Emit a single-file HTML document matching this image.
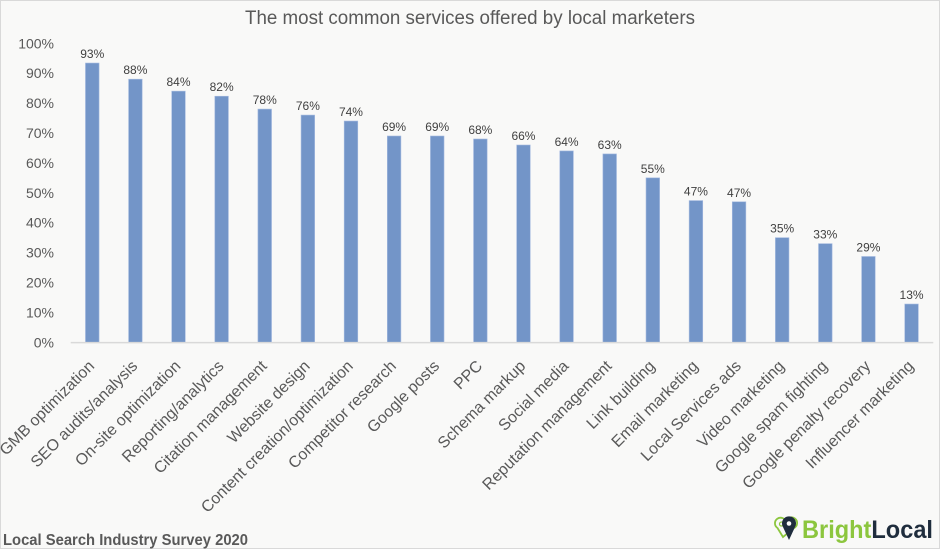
<!DOCTYPE html>
<html><head><meta charset="utf-8"><style>
html,body{margin:0;padding:0;background:#f9f9f8;}
svg{display:block;}
text{font-family:"Liberation Sans",Arial,sans-serif;}
</style></head><body>
<svg width="940" height="549" viewBox="0 0 940 549" xmlns="http://www.w3.org/2000/svg">
<rect x="0.5" y="0.5" width="939" height="548" fill="#f9f9f8" stroke="#d9d9d9" stroke-width="1"/>
<text x="245" y="24" font-size="19" fill="#595959" textLength="450" lengthAdjust="spacingAndGlyphs">The most common services offered by local marketers</text>

<g font-size="14" fill="#595959" text-anchor="end">
<text x="54" y="347.3">0%</text>
<text x="54" y="317.4">10%</text>
<text x="54" y="287.5">20%</text>
<text x="54" y="257.6">30%</text>
<text x="54" y="227.7">40%</text>
<text x="54" y="197.8">50%</text>
<text x="54" y="167.9">60%</text>
<text x="54" y="138.0">70%</text>
<text x="54" y="108.1">80%</text>
<text x="54" y="78.2">90%</text>
<text x="54" y="48.3">100%</text>
</g>

<g fill="#7395c8" stroke="#a6bbe0" stroke-width="0.6">
<rect x="85.46" y="63.03" width="13.6" height="279.27"/>
<rect x="128.58" y="79.18" width="13.6" height="263.12"/>
<rect x="171.70" y="91.14" width="13.6" height="251.16"/>
<rect x="214.82" y="96.22" width="13.6" height="246.08"/>
<rect x="257.94" y="109.08" width="13.6" height="233.22"/>
<rect x="301.06" y="115.06" width="13.6" height="227.24"/>
<rect x="344.18" y="121.04" width="13.6" height="221.26"/>
<rect x="387.30" y="136.0" width="13.6" height="206.3"/>
<rect x="430.42" y="136.0" width="13.6" height="206.3"/>
<rect x="473.54" y="139.0" width="13.6" height="203.3"/>
<rect x="516.66" y="145.0" width="13.6" height="197.3"/>
<rect x="559.78" y="150.94" width="13.6" height="191.36"/>
<rect x="602.90" y="153.93" width="13.6" height="188.37"/>
<rect x="646.02" y="177.85" width="13.6" height="164.45"/>
<rect x="689.14" y="200.57" width="13.6" height="141.73"/>
<rect x="732.26" y="201.77" width="13.6" height="140.53"/>
<rect x="775.38" y="237.65" width="13.6" height="104.65"/>
<rect x="818.50" y="243.63" width="13.6" height="98.67"/>
<rect x="861.62" y="256.49" width="13.6" height="85.81"/>
<rect x="904.74" y="304.03" width="13.6" height="38.27"/>
</g>
<line x1="70.7" y1="342.6" x2="933.3" y2="342.6" stroke="#d9d9d9" stroke-width="1.5"/>

<g font-size="12" fill="#404040" text-anchor="middle">
<text x="92.26" y="58.03">93%</text>
<text x="135.38" y="74.18">88%</text>
<text x="178.50" y="86.14">84%</text>
<text x="221.62" y="91.22">82%</text>
<text x="264.74" y="104.08">78%</text>
<text x="307.86" y="110.06">76%</text>
<text x="350.98" y="116.04">74%</text>
<text x="394.10" y="131.0">69%</text>
<text x="437.22" y="131.0">69%</text>
<text x="480.34" y="134.0">68%</text>
<text x="523.46" y="140.0">66%</text>
<text x="566.58" y="145.94">64%</text>
<text x="609.70" y="148.93">63%</text>
<text x="652.82" y="172.85">55%</text>
<text x="695.94" y="195.57">47%</text>
<text x="739.06" y="196.77">47%</text>
<text x="782.18" y="232.65">35%</text>
<text x="825.30" y="238.63">33%</text>
<text x="868.42" y="251.49">29%</text>
<text x="911.54" y="299.03">13%</text>
</g>

<g font-size="16" fill="#595959" text-anchor="end">
<text transform="translate(95.26,367) rotate(-45)">GMB optimization</text>
<text transform="translate(138.38,367) rotate(-45)">SEO audits/analysis</text>
<text transform="translate(181.50,367) rotate(-45)">On-site optimization</text>
<text transform="translate(224.62,367) rotate(-45)">Reporting/analytics</text>
<text transform="translate(267.74,367) rotate(-45)">Citation management</text>
<text transform="translate(310.86,367) rotate(-45)">Website design</text>
<text transform="translate(353.98,367) rotate(-45)">Content creation/optimization</text>
<text transform="translate(397.10,367) rotate(-45)">Competitor research</text>
<text transform="translate(440.22,367) rotate(-45)">Google posts</text>
<text transform="translate(483.34,367) rotate(-45)">PPC</text>
<text transform="translate(526.46,367) rotate(-45)">Schema markup</text>
<text transform="translate(569.58,367) rotate(-45)">Social media</text>
<text transform="translate(612.70,367) rotate(-45)">Reputation management</text>
<text transform="translate(655.82,367) rotate(-45)">Link building</text>
<text transform="translate(698.94,367) rotate(-45)">Email marketing</text>
<text transform="translate(742.06,367) rotate(-45)">Local Services ads</text>
<text transform="translate(785.18,367) rotate(-45)">Video marketing</text>
<text transform="translate(828.30,367) rotate(-45)">Google spam fighting</text>
<text transform="translate(871.42,367) rotate(-45)">Google penalty recovery</text>
<text transform="translate(914.54,367) rotate(-45)">Influencer marketing</text>
</g>

<text x="3" y="545" font-size="16" font-weight="bold" fill="#595959" textLength="245" lengthAdjust="spacingAndGlyphs">Local Search Industry Survey 2020</text>

<!-- BrightLocal logo -->
<g>
<path d="M783,537 L777.5,528 A5.6,5.6 0 1 1 786,522 A5.6,5.6 0 1 1 794,528 Z" fill="none" stroke="#8cc63e" stroke-width="1.8"/>
<circle cx="781.5" cy="524" r="2" fill="none" stroke="#8cc63e" stroke-width="1.3"/>
<path d="M789,540 L783,527 A7,7 0 1 1 795,527 Z" fill="#1f2d3d"/>
<circle cx="789" cy="523.5" r="2.3" fill="#f9f9f8"/>
<text x="802" y="538" font-size="25" font-weight="bold" textLength="131" lengthAdjust="spacingAndGlyphs"><tspan fill="#8cc63e">Bright</tspan><tspan fill="#1f2d3d">Local</tspan></text>
</g>
</svg>
</body></html>
